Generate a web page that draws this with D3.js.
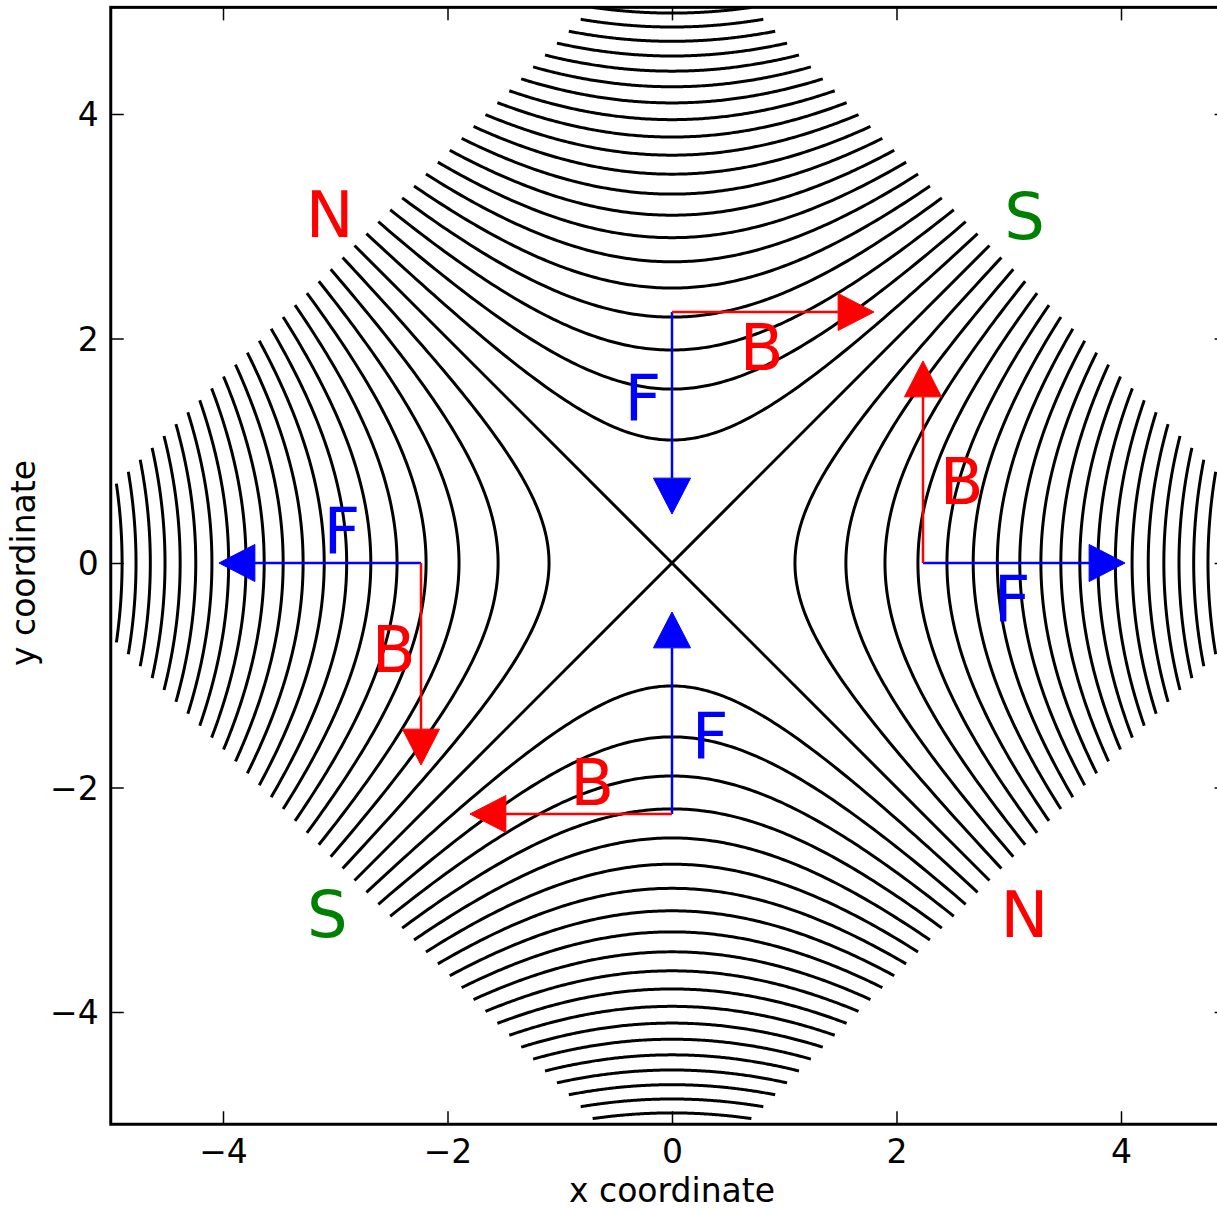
<!DOCTYPE html>
<meta charset="utf-8">
<script src="https://d3js.org/d3.v7.min.js"></script>
<style>
  body { margin: 0; background: #fff; }
  text { font-family: "DejaVu Sans", sans-serif; }
</style>
<div id="my_dataviz"></div>
<script>
// contour levels of x^2 - y^2 (positive: left/right lobes, the same negated: top/bottom lobes)
const levels = [0, 1.2, 2.4, 3.6, 4.8, 6.0, 7.2, 8.4, 9.6, 10.8, 12.0, 13.2, 14.4,
                15.6, 16.8, 18.0, 19.2, 20.4, 21.6, 22.8, 24.0, 25.2, 26.4, 27.6, 28.8, 30.0, 31.2];
const gridHalf = 4;          // half width of the 45 degree rotated grid
const xLim = [-5, 4.95];
const yLim = [-5, 4.95];
const xTicks = [-4, -2, 0, 2, 4];
const yTicks = [-4, -2, 0, 2, 4];

// arrows: common origins, force (F) and field (B) vectors
const arrowOrigins = [[0, 2.236], [2.236, 0], [0, -2.236], [-2.236, 0]];
const forceVecs = [[0, -1.8], [1.8, 0], [0, 1.8], [-1.8, 0]];
const fieldVecs = [[1.8, 0], [0, 1.8], [-1.8, 0], [0, -1.8]];
const forceLabelPos = [[-0.26, 1.27], [3.03, -0.52], [0.34, -1.74], [-2.94, 0.09]];
const fieldLabelPos = [[0.80, 1.72], [2.58, 0.53], [-0.71, -2.16], [-2.48, -0.97]];

// pole names
const poleNames = ["N", "S", "S", "N"];
const polePos = [[-3.05, 2.90], [3.14, 2.89], [-3.07, -3.33], [3.14, -3.33]];
const poleColors = ["#ff0000", "#008000", "#008000", "#ff0000"];

const width = 1217, height = 1211;
const pxPerUnit = 112.25;
const left = 110.75, bottom = 1124.25;

const x = d3.scaleLinear().domain(xLim).range([left, left + (xLim[1] - xLim[0]) * pxPerUnit]);
const y = d3.scaleLinear().domain(yLim).range([bottom, bottom - (yLim[1] - yLim[0]) * pxPerUnit]);

const svg = d3.select("#my_dataviz")
    .append("svg")
    .attr("width", width)
    .attr("height", height);

svg.append("clipPath").attr("id", "plotclip")
    .append("rect")
    .attr("x", x(xLim[0])).attr("y", y(yLim[1]))
    .attr("width", x(xLim[1]) - x(xLim[0]))
    .attr("height", y(yLim[0]) - y(yLim[1]));

const plot = svg.append("g").attr("clip-path", "url(#plotclip)");

// build contour branches clipped to the diamond |x|+|y| <= S
const S = gridHalf * Math.SQRT2;
const branches = [];
levels.forEach(L => {
    if (L === 0) {
        branches.push([[-S / 2, -S / 2], [S / 2, S / 2]]);
        branches.push([[-S / 2, S / 2], [S / 2, -S / 2]]);
        return;
    }
    if (L >= S * S) return;
    const r = Math.sqrt(L);
    const tm = Math.asinh((S * S - L) / (2 * S) / r);
    const n = 160;
    const ts = d3.range(n + 1).map(i => -tm + 2 * tm * i / n);
    branches.push(ts.map(t => [ r * Math.cosh(t), r * Math.sinh(t)]));
    branches.push(ts.map(t => [-r * Math.cosh(t), r * Math.sinh(t)]));
    branches.push(ts.map(t => [r * Math.sinh(t),  r * Math.cosh(t)]));
    branches.push(ts.map(t => [r * Math.sinh(t), -r * Math.cosh(t)]));
});

const line = d3.line().x(d => x(d[0])).y(d => y(d[1]));

plot.selectAll(".contour")
    .data(branches)
    .join("path")
    .attr("class", "contour")
    .attr("d", line)
    .attr("fill", "none")
    .attr("stroke", "black")
    .attr("stroke-width", 3);

// arrows
const headLen = 0.32, headWid = 0.33;
function drawArrow(o, v, color) {
    const len = Math.hypot(v[0], v[1]);
    const ux = v[0] / len, uy = v[1] / len;
    const tip = [o[0] + v[0], o[1] + v[1]];
    const base = [tip[0] - ux * headLen, tip[1] - uy * headLen];
    plot.append("line")
        .attr("x1", x(o[0])).attr("y1", y(o[1]))
        .attr("x2", x(base[0])).attr("y2", y(base[1]))
        .attr("stroke", color).attr("stroke-width", 2.5);
    const px = -uy * headWid / 2, py = ux * headWid / 2;
    const pts = [tip, [base[0] + px, base[1] + py], [base[0] - px, base[1] - py]];
    plot.append("polygon")
        .attr("points", pts.map(p => x(p[0]) + "," + y(p[1])).join(" "))
        .attr("fill", color).attr("stroke", color).attr("stroke-width", 1);
}
arrowOrigins.forEach((o, i) => {
    drawArrow(o, forceVecs[i], "#0000ff");
    drawArrow(o, fieldVecs[i], "#ff0000");
});

function label(txt, p, color) {
    svg.append("text")
        .attr("x", x(p[0])).attr("y", y(p[1]))
        .attr("text-anchor", "middle")
        .attr("font-size", "64px")
        .attr("fill", color)
        .text(txt);
}
forceLabelPos.forEach(p => label("F", p, "#0000ff"));
fieldLabelPos.forEach(p => label("B", p, "#ff0000"));
poleNames.forEach((t, i) => label(t, polePos[i], poleColors[i]));

// axes with inward ticks on all four sides
const tickLen = 13;
const fmt = d3.format("d");
const xb = svg.append("g").attr("transform", `translate(0,${y(yLim[0])})`)
    .call(d3.axisBottom(x).tickValues(xTicks).tickFormat(fmt).tickSizeInner(-tickLen).tickSizeOuter(0).tickPadding(15));
const yl = svg.append("g").attr("transform", `translate(${x(xLim[0])},0)`)
    .call(d3.axisLeft(y).tickValues(yTicks).tickFormat(fmt).tickSizeInner(-tickLen).tickSizeOuter(0).tickPadding(12));
const xt = svg.append("g").attr("transform", `translate(0,${y(yLim[1])})`)
    .call(d3.axisTop(x).tickValues(xTicks).tickFormat("").tickSizeInner(-tickLen).tickSizeOuter(0));
const yr = svg.append("g").attr("transform", `translate(${x(xLim[1])},0)`)
    .call(d3.axisRight(y).tickValues(yTicks).tickFormat("").tickSizeInner(-tickLen).tickSizeOuter(0));

[xb, yl, xt, yr].forEach(g => {
    g.select(".domain").remove();
    g.selectAll(".tick line").attr("stroke", "black").attr("stroke-width", 1.5);
    g.selectAll(".tick text")
        .attr("fill", "black")
        .attr("font-size", "33px")
        .attr("font-family", "DejaVu Sans, sans-serif");
});
yl.selectAll(".tick text").attr("dy", "0.36em");

// frame
svg.append("rect")
    .attr("x", x(xLim[0])).attr("y", y(yLim[1]))
    .attr("width", x(xLim[1]) - x(xLim[0]))
    .attr("height", y(yLim[0]) - y(yLim[1]))
    .attr("fill", "none")
    .attr("stroke", "black")
    .attr("stroke-width", 3);

// axis labels
svg.append("text")
    .attr("x", x(0)).attr("y", 1202)
    .attr("text-anchor", "middle")
    .attr("font-size", "33px")
    .text("x coordinate");
svg.append("text")
    .attr("transform", `translate(35,${y(0)}) rotate(-90)`)
    .attr("text-anchor", "middle")
    .attr("font-size", "33px")
    .text("y coordinate");
</script>
